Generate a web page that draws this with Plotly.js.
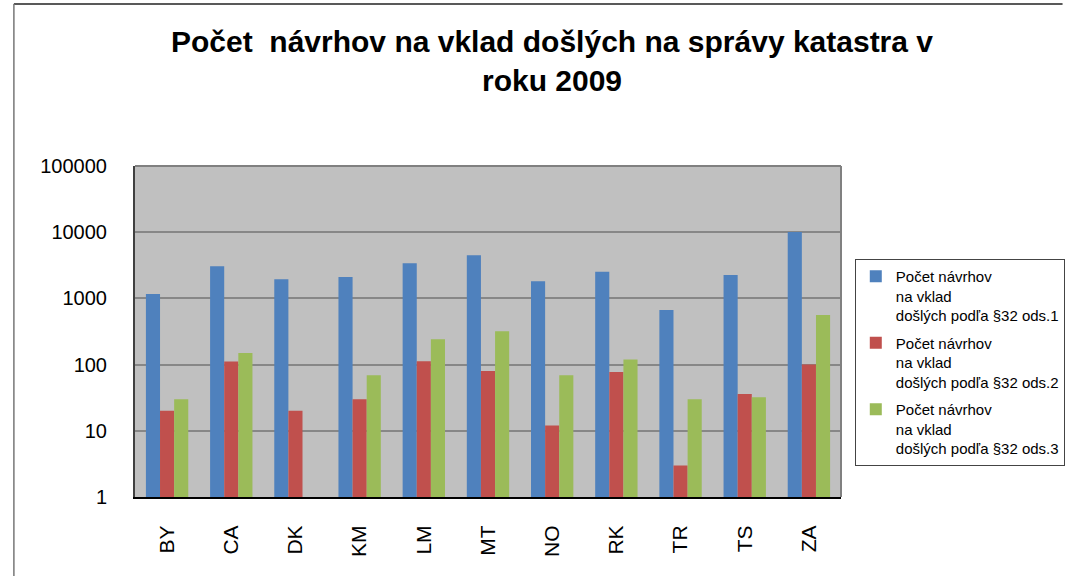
<!DOCTYPE html>
<html>
<head>
<meta charset="utf-8">
<script src="https://cdn.plot.ly/plotly-3.0.1.min.js"></script>
<style>
html,body{margin:0;padding:0;background:#fff;}
#chart{width:1077px;height:576px;}
</style>
</head>
<body>
<div id="chart"></div>
<script>
const categories = ["BY","CA","DK","KM","LM","MT","NO","RK","TR","TS","ZA"];
const seriesNames = [
  "Počet návrhov<br>na vklad<br>došlých podľa §32 ods.1",
  "Počet návrhov<br>na vklad<br>došlých podľa §32 ods.2",
  "Počet návrhov<br>na vklad<br>došlých podľa §32 ods.3"
];
const ods1 = [1170, 3050, 1950, 2100, 3400, 4480, 1810, 2530, 670, 2260, 10100];
const ods2 = [20, 111, 20, 30, 112, 80, 12, 77, 3, 36, 100];
const ods3 = [30, 150, null, 69, 241, 318, 69, 119, 30, 32, 560];
const seriesColors = ["#4F81BD", "#C0504D", "#9BBB59"];
const yTickVals = [1, 10, 100, 1000, 10000, 100000];
const yTickText = ["1", "10", "100", "1000", "10000", "100000"];

const FONT = "Liberation Sans, Arial, sans-serif";
const L = 135, R = 225, T = 166, B = 79, W = 1077, H = 576;
const pw = W - L - R, ph = H - T - B;
const px = x => (x - L) / pw;
const py = y => (H - B - y) / ph;

const values = [ods1, ods2, ods3];
const traces = values.map((v, i) => ({
  type: "bar",
  name: seriesNames[i],
  x: categories,
  y: v,
  marker: {color: seriesColors[i], line: {width: 0}},
  legendgroup: "g" + i,
  hoverinfo: "x+y"
}));

const layout = {
  width: W, height: H,
  margin: {l: L, r: R, t: T, b: B, pad: 0},
  paper_bgcolor: "#ffffff",
  plot_bgcolor: "#C0C0C0",
  font: {family: FONT, color: "#000"},
  title: {
    text: "Počet\u00a0 návrhov na vklad došlých na správy katastra v<br>roku 2009",
    font: {family: FONT, size: 30, weight: "bold", color: "#000"},
    xref: "container", yref: "container",
    x: 552 / W, xanchor: "center",
    y: 1 - 52 / H, yanchor: "middle"
  },
  barmode: "group",
  bargap: 0.34,
  bargroupgap: 0,
  xaxis: {
    type: "category",
    tickangle: -90,
    tickfont: {family: FONT, size: 21, color: "#000"},
    showgrid: false,
    showline: true, linecolor: "#000", linewidth: 2,
    ticks: "", ticklabelstandoff: 18,
    fixedrange: true
  },
  yaxis: {
    type: "log",
    range: [0, 5],
    tickvals: yTickVals,
    ticktext: yTickText,
    tickfont: {family: FONT, size: 20, color: "#000"},
    showgrid: true, gridcolor: "#878787", gridwidth: 2,
    showline: true, linecolor: "#404040", linewidth: 2,
    ticks: "", ticklabelstandoff: 22,
    zeroline: false,
    fixedrange: true
  },
  showlegend: true,
  legend: {
    x: px(866), xanchor: "left",
    y: py(259), yanchor: "top",
    valign: "top",
    bgcolor: "#ffffff",
    bordercolor: "#444",
    borderwidth: 1,
    font: {family: FONT, size: 15, color: "#000"},
    tracegroupgap: 5,
    traceorder: "grouped",
    itemclick: false, itemdoubleclick: false
  },
  shapes: [
    {type: "line", xref: "paper", yref: "paper", x0: 0, x1: 1, y0: 1, y1: 1, line: {color: "#808080", width: 2}},
    {type: "line", xref: "paper", yref: "paper", x0: 1, x1: 1, y0: 0, y1: 1, line: {color: "#808080", width: 2}},
    {type: "line", xref: "paper", yref: "paper", x0: px(12), x1: px(1077), y0: py(4), y1: py(4), line: {color: "#222", width: 1.5}},
    {type: "line", xref: "paper", yref: "paper", x0: px(12), x1: px(12), y0: py(4), y1: py(576), line: {color: "#777", width: 1.5}}
  ]
};

Plotly.newPlot("chart", traces, layout, {displayModeBar: false, staticPlot: true});
</script>
</body>
</html>
